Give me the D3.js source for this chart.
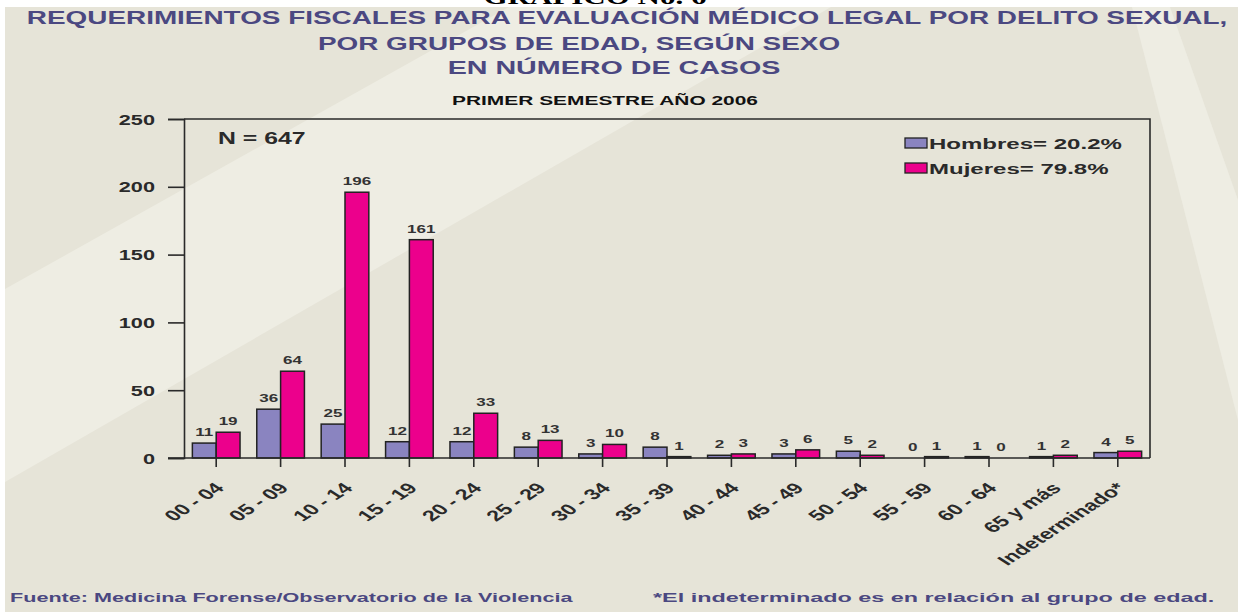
<!DOCTYPE html>
<html>
<head>
<meta charset="utf-8">
<script src="https://cdn.jsdelivr.net/npm/d3@7"></script>
<style>
  html, body { margin: 0; padding: 0; background: #ffffff; }
  svg { display: block; }
  text { font-family: "Liberation Sans", Arial, sans-serif; font-weight: bold; }
</style>
</head>
<body>
<svg id="chart" width="1238" height="612"></svg>
<script>
// ---------- data ----------
const categories = ["00 - 04","05 - 09","10 - 14","15 - 19","20 - 24","25 - 29","30 - 34","35 - 39","40 - 44","45 - 49","50 - 54","55 - 59","60 - 64","65 y más","Indeterminado*"];
const hombres = [11, 36, 25, 12, 12, 8, 3, 8, 2, 3, 5, 0, 1, 1, 4];
const mujeres = [19, 64, 196, 161, 33, 13, 10, 1, 3, 6, 2, 1, 0, 2, 5];
const seriesNames = ["Hombres", "Mujeres"];
const legendLabels = ["Hombres= 20.2%", "Mujeres= 79.8%"];
const yTicks = [0, 50, 100, 150, 200, 250];
const titleLines = ["REQUERIMIENTOS FISCALES PARA EVALUACIÓN MÉDICO LEGAL POR DELITO SEXUAL,", "POR GRUPOS DE EDAD, SEGÚN SEXO", "EN NÚMERO DE CASOS"];
const subtitle = "PRIMER SEMESTRE AÑO 2006";
const nLabel = "N = 647";
const sourceNote = "Fuente: Medicina Forense/Observatorio de la Violencia";
const footNote = "*El indeterminado es en relación al grupo de edad.";
const topHeading = "GRÁFICO No. 6";

// ---------- layout ----------
const W = 1238, H = 612;
const SX = 1.55;                 // horizontal stretch of the original picture
const plot = { left: 184, right: 1150, top: 119, bottom: 458 };
const colors = { Hombres: "#8A84C0", Mujeres: "#EC008C" };
const titleColor = "#4B4881";
const axisColor = "#2a2a2a";

const svg = d3.select("#chart");

// background
svg.append("rect").attr("x", 0).attr("y", 0).attr("width", W).attr("height", H).attr("fill", "#ffffff");
svg.append("rect").attr("x", 5).attr("y", 7).attr("width", W - 5).attr("height", H - 7).attr("fill", "#E6E4D8");
svg.append("polygon").attr("points", "5,289 509,7 831,7 5,482").attr("fill", "#EEEDE3");
svg.append("polygon").attr("points", "1132,7 1170,7 1238,200 1238,420").attr("fill", "#EEEDE3");

function stext(g, x, y, str, o) {
  o = o || {};
  const sx = o.sx || SX;
  let tr = `translate(${x},${y}) scale(${sx},1)`;
  if (o.rotate) tr += ` rotate(${o.rotate})`;
  return g.append("text")
    .attr("transform", tr)
    .attr("text-anchor", o.anchor || "start")
    .attr("font-size", o.size || 12)
    .attr("fill", o.fill || "#222")
    .style("font-family", o.family || null)
    .text(str);
}

// top heading (cut off by the page edge, as in the source)
stext(svg, 595, 4, topHeading, { anchor: "middle", size: 20, fill: "#000", family: "'Liberation Serif', 'Times New Roman', serif" });

// titles
const titleX = [627, 579, 614];
const titleY = [24, 50, 74];
const titleSize = [18, 18, 18.5];
titleLines.forEach((t, i) => stext(svg, titleX[i], titleY[i], t, { anchor: "middle", size: titleSize[i], fill: titleColor }));
stext(svg, 605, 105, subtitle, { anchor: "middle", size: 13.5, fill: "#111" });

// scales
const x0 = d3.scaleBand().domain(categories).range([plot.left, plot.right]).padding(0);
const bw = x0.bandwidth();
const x1 = d3.scaleBand().domain(seriesNames).range([bw * 0.13, bw * 0.87]).padding(0);
const y = d3.scaleLinear().domain([0, 250]).range([plot.bottom, plot.top]);

// frame (top and right)
svg.append("path")
  .attr("d", `M${plot.left},${y(250)}H${plot.right}V${y(0)}`)
  .attr("fill", "none").attr("stroke", axisColor).attr("stroke-width", 1.6);

// y axis
const yAxis = d3.axisLeft(y).tickValues(yTicks).tickSize(16).tickFormat(d3.format("d")).tickPadding(0);
const gy = svg.append("g").attr("transform", `translate(${plot.left},0)`).call(yAxis);
gy.select(".domain").attr("stroke", axisColor).attr("stroke-width", 1.6);
gy.selectAll(".tick line").attr("stroke", axisColor).attr("stroke-width", 1.6);
gy.selectAll(".tick text").remove();
gy.selectAll(".tick").each(function (d) {
  stext(d3.select(this), -29, 5, d, { anchor: "end", size: 14, fill: "#2a2a2a" });
});

// x axis
const xAxis = d3.axisBottom(x0).tickSize(9).tickSizeOuter(0).tickFormat("");
const gx = svg.append("g").attr("transform", `translate(0,${plot.bottom})`).call(xAxis);
gx.select(".domain").remove();
gx.selectAll(".tick line").attr("stroke", axisColor).attr("stroke-width", 1.6);
gx.selectAll(".tick").each(function (d) {
  stext(d3.select(this), 9, 31, d, { anchor: "end", size: 15, rotate: -45, fill: "#2a2a2a" });
});

// bars
const rows = categories.map((c, i) => ({ cat: c, values: [
  { key: "Hombres", value: hombres[i] },
  { key: "Mujeres", value: mujeres[i] }
]}));
const groups = svg.append("g").selectAll("g").data(rows).join("g")
  .attr("transform", d => `translate(${x0(d.cat)},0)`);
groups.selectAll("rect").data(d => d.values).join("rect")
  .attr("x", d => x1(d.key))
  .attr("y", d => y(d.value))
  .attr("width", x1.bandwidth())
  .attr("height", d => y(0) - y(d.value))
  .attr("fill", d => colors[d.key])
  .attr("stroke", "#222").attr("stroke-width", 1.5);
groups.each(function (d) {
  const g = d3.select(this);
  d.values.forEach(v => {
    stext(g, x1(v.key) + x1.bandwidth() / 2, y(v.value) - 7, v.value, { anchor: "middle", size: 11, fill: "#333" });
  });
});

// x baseline
svg.append("line").attr("x1", plot.left - 16).attr("x2", plot.right)
  .attr("y1", y(0)).attr("y2", y(0)).attr("stroke", axisColor).attr("stroke-width", 1.6);

// N label
stext(svg, 218, 144, nLabel, { size: 16, fill: "#2a2a2a" });

// legend
const leg = svg.append("g").attr("transform", "translate(905,138)");
seriesNames.forEach((s, i) => {
  leg.append("rect").attr("x", 0).attr("y", i * 25).attr("width", 22).attr("height", 10)
    .attr("fill", colors[s]).attr("stroke", "#222").attr("stroke-width", 1.3);
  stext(leg, 24, i * 25 + 11, legendLabels[i], { size: 15.5, fill: "#2a2a2a" });
});

// footer
stext(svg, 10, 602, sourceNote, { size: 12, sx: 1.8, fill: titleColor });
stext(svg, 653, 602, footNote, { size: 12, sx: 1.95, fill: titleColor });
</script>
</body>
</html>
